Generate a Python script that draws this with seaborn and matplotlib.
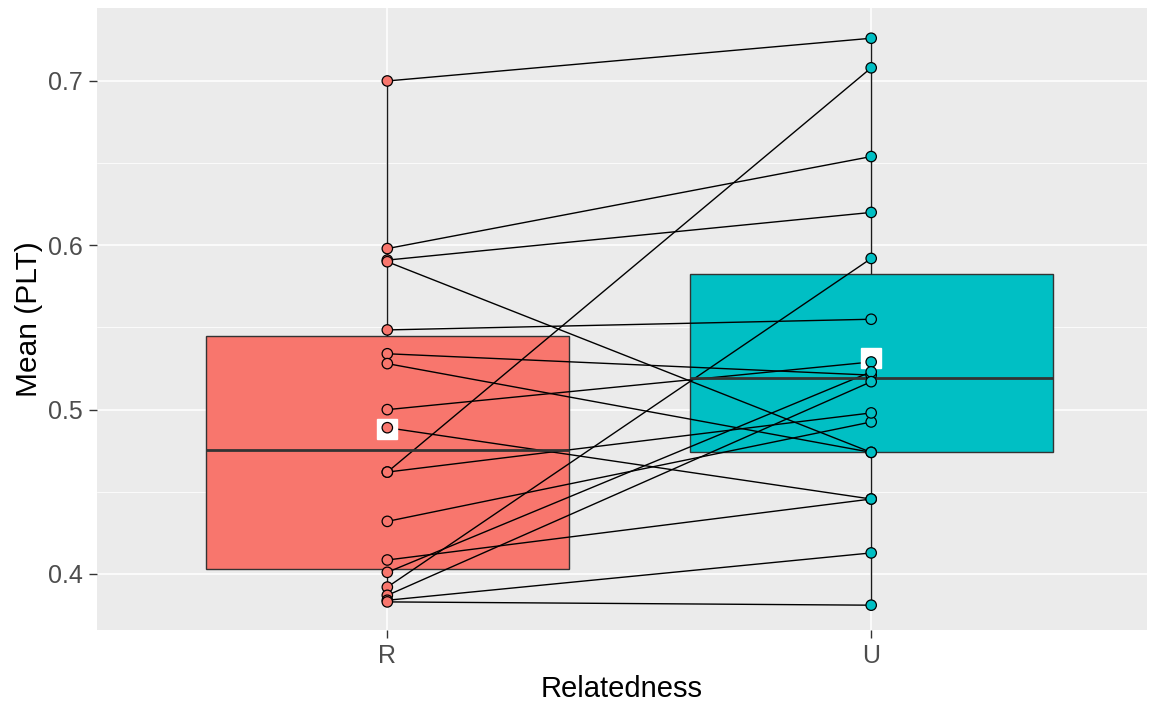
import numpy as np
import pandas as pd
import matplotlib
matplotlib.use("Agg")
import matplotlib.pyplot as plt
from matplotlib.ticker import MultipleLocator
import seaborn as sns

categories = ["R", "U"]
r_values = [0.700, 0.598, 0.591, 0.590, 0.5485, 0.534, 0.528, 0.500, 0.489,
            0.462, 0.432, 0.462, 0.4085, 0.401, 0.392, 0.387, 0.384, 0.383]
u_values = [0.726, 0.654, 0.620, 0.474, 0.555, 0.521, 0.474, 0.529, 0.4456,
            0.708, 0.4925, 0.498, 0.4456, 0.523, 0.592, 0.517, 0.4128, 0.381]
palette = {"R": "#F8766D", "U": "#00BFC4"}
y_ticks = [0.4, 0.5, 0.6, 0.7]

n = len(r_values)
df = pd.DataFrame({
    "id": list(range(n)) * 2,
    "Relatedness": ["R"] * n + ["U"] * n,
    "Mean": r_values + u_values,
})
df["pos"] = df["Relatedness"].map({c: i for i, c in enumerate(categories)})

sns.set_theme(style="darkgrid", rc={
    "axes.facecolor": "#EBEBEB",
    "grid.color": "white",
    "axes.edgecolor": "white",
})
plt.rcParams["font.family"] = ["Liberation Sans", "DejaVu Sans"]

fig = plt.figure(figsize=(11.55, 7.06), dpi=100)
ax = fig.add_axes([97 / 1155, 1 - 630 / 706, (1147 - 97) / 1155, (630 - 8) / 706])

sns.boxplot(data=df, x="Relatedness", y="Mean", hue="Relatedness",
            order=categories, hue_order=categories, palette=palette,
            width=0.75, whis=(0, 100), showcaps=False, showfliers=False,
            showmeans=True, linecolor="#333333", linewidth=1.0,
            meanprops=dict(marker="s", markerfacecolor="white",
                           markeredgecolor="white", markersize=14),
            medianprops=dict(linewidth=2.0, color="#333333"),
            whiskerprops=dict(color="#1a1a1a", linewidth=1.0),
            saturation=1, legend=False, ax=ax)

sns.lineplot(data=df, x="pos", y="Mean", units="id", estimator=None,
             color="black", linewidth=1.0, ax=ax, legend=False)

sns.stripplot(data=df, x="Relatedness", y="Mean", hue="Relatedness",
              order=categories, hue_order=categories, palette=palette,
              jitter=False, size=7.5, linewidth=0.9, edgecolor="black",
              legend=False, zorder=5, ax=ax)

ax.set_xlim(-0.6, 1.57)
ax.set_ylim(0.3659, 0.7444)
ax.set_xticks([0, 1])
ax.set_xticklabels(categories)
ax.set_yticks(y_ticks)
ax.set_yticklabels([f"{v:.1f}" for v in y_ticks])
ax.yaxis.set_minor_locator(MultipleLocator(0.05))
ax.grid(which="major", color="white", linewidth=1.1)
ax.grid(which="minor", axis="y", color="white", linewidth=0.55)
ax.set_axisbelow(True)
for s in ax.spines.values():
    s.set_visible(False)
ax.tick_params(axis="both", which="major", length=6, width=1.0,
               color="#333333", labelcolor="#4D4D4D", labelsize=18,
               bottom=True, left=True, pad=4)
ax.tick_params(axis="y", which="minor", length=0)
ax.set_xlabel("Relatedness", fontsize=21, color="black", labelpad=5)
ax.set_ylabel("Mean (PLT)", fontsize=21.5, color="black", labelpad=4)

fig.savefig("out.png", dpi=100)
